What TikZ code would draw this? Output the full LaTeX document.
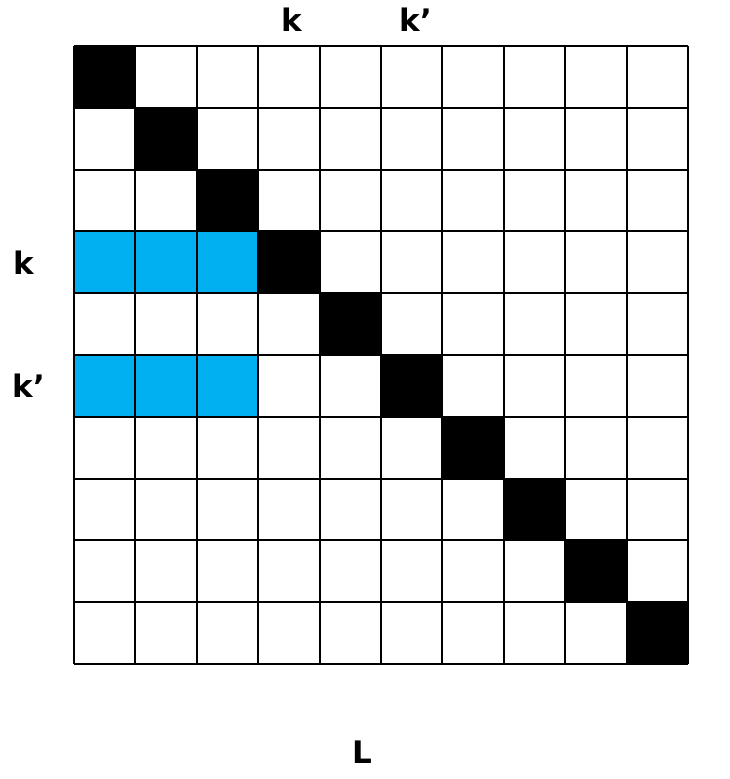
\documentclass[tikz,border=0pt]{standalone}
\usepackage{fontspec}
\setmainfont{DejaVu Sans}
\definecolor{cellblue}{HTML}{00B0F0}
\begin{document}
\begin{tikzpicture}[x=1pt,y=-1pt,
  lbl/.style={font=\fontsize{31}{36}\selectfont\bfseries, inner sep=0pt},
  cell/.style={draw=black, line width=2pt}]
\useasboundingbox (0,0) rectangle (729,779);
\def\xa{74}\def\ya{46}\def\cw{61.4}\def\ch{61.8}
% blue cells
\foreach \c in {0,1,2} {
  \fill[cellblue] (\xa+\c*\cw,\ya+3*\ch) rectangle ++(\cw,\ch);
  \fill[cellblue] (\xa+\c*\cw,\ya+5*\ch) rectangle ++(\cw,\ch);
}
% diagonal
\foreach \i in {0,...,9} {
  \fill[black] (\xa+\i*\cw,\ya+\i*\ch) rectangle ++(\cw,\ch);
}
% grid
\foreach \i in {0,...,10} {
  \draw[line width=2pt] (\xa+\i*\cw,\ya) -- (\xa+\i*\cw,\ya+10*\ch);
  \draw[line width=2pt] (\xa,\ya+\i*\ch) -- (\xa+10*\cw,\ya+\i*\ch);
}
\node[lbl] (tk) at (292,20) {k};
\node[lbl] (tkp) at (416,20) {k’};
\node[lbl] (lk) at (24,263) {k};
\node[lbl] (lkp) at (29,386) {k’};
\node[lbl] (L) at (362,752) {L};
\end{tikzpicture}
\end{document}
